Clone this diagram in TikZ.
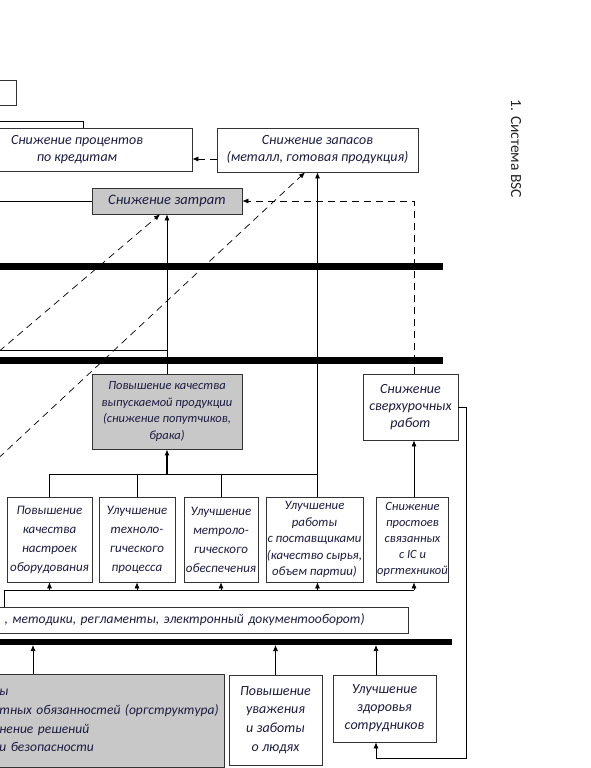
\documentclass[tikz,border=0pt]{standalone}
\usepackage{fontspec}
\setmainfont{Carlito}
\usetikzlibrary{arrows.meta,arrows}
\usetikzlibrary{positioning}
\definecolor{ink}{RGB}{28,28,64}
\definecolor{boxgray}{RGB}{200,200,200}

\begin{document}
\begin{tikzpicture}[x=1pt,y=-1pt]
        \useasboundingbox (0,0) rectangle (591,768);

        \begin{scope}[every node/.style={draw=black!80,line width=0.7pt,fill=white,text=ink,align=center,inner sep=1pt,
            font=\itshape\fontsize{14}{17}\selectfont}]
            \node[minimum width=56pt,minimum height=25pt] (T) at (-12,92.5) {};
            \node[minimum width=230pt,minimum height=43pt] (P) at (77,149.5) {Снижение процентов\\по кредитам};
            \node[minimum width=201pt,minimum height=44pt] (Q) at (317.5,150) {Снижение запасов\\(металл, готовая продукция)};
            \node[fill=boxgray,minimum width=150pt,minimum height=26pt,font=\itshape\fontsize{14.5}{17}\selectfont] (Z) at (167,201) {Снижение затрат};
            \node[fill=boxgray,minimum width=150pt,minimum height=75pt,font=\itshape\fontsize{12.5}{16.5}\selectfont] (K) at (167,411.5)
                {Повышение качества\\выпускаемой продукции\\(снижение попутчиков,\\брака)};
            \node[minimum width=95pt,minimum height=66pt] (S) at (410.5,407) {Снижение\\сверхурочных\\работ};
            \begin{scope}[every node/.append style={minimum height=85pt,font=\itshape\fontsize{13}{19}\selectfont}]
                \node[minimum width=85pt] (B1) at (49.5,539.5) {Повышение\\качества\\настроек\\оборудования};
                \node[minimum width=76pt] (B2) at (137,539.5) {Улучшение\\техноло-\\гического\\процесса};
                \node[minimum width=74pt] (B3) at (221,539.5) {Улучшение\\метроло-\\гического\\обеспечения};
                \node[minimum width=95pt,font=\itshape\fontsize{12.8}{16.5}\selectfont] (B4) at (314.5,539.5)
                    {Улучшение\\работы\\с поставщиками\\(качество сырья,\\объем партии)};
                \node[minimum width=71pt,font=\itshape\fontsize{12.5}{16}\selectfont] (B5) at (412.5,539.5)
                    {Снижение\\простоев\\связанных\\с IC и\\оргтехникой};
            \end{scope}
            \node[anchor=east,text width=400pt,inner xsep=44pt,minimum height=26pt,align=right,
                font=\itshape\fontsize{13.5}{17}\selectfont] (D) at (409,620)
                {, методики, регламенты, электронный документооборот)};
            \node[anchor=west,fill=boxgray,text width=223pt,inner xsep=2pt,minimum height=93pt,align=left,
                font=\itshape\fontsize{13.5}{18.7}\selectfont] (G) at (-3,720.5)
                {\mbox{ы}\\\mbox{тных обязанностей (оргструктура)}\\\mbox{нение решений}\\\mbox{и безопасности}};
            \node[minimum width=93pt,minimum height=90pt,font=\itshape\fontsize{14}{18.7}\selectfont] (U) at (275.5,720)
                {Повышение\\уважения\\и заботы\\о людях};
            \node[minimum width=103pt,minimum height=67pt,font=\itshape\fontsize{14}{18}\selectfont] (H) at (384.5,708.5)
                {Улучшение\\здоровья\\сотрудников};
        \end{scope}

        \node[rotate=-90,text=black!85,font=\fontsize{15.5}{18}\selectfont] (bsc) at (516,149) {1. Система BSC};

        % free ends on the left and corner points
        \coordinate (lt) at (-5,121);
        \coordinate (lz) at (-5,201);
        \coordinate (lk) at (-5,350);
        \coordinate (d1) at (-10,359);
        \coordinate (d2) at (-10,466);
        \coordinate (tj) at (167,474);
        \coordinate (tr) at (317.5,474);
        \coordinate (dl) at (4,590);
        \coordinate (ga) at (33,645);
        \coordinate (rc) at (466,758);

        \begin{scope}[>={Latex[length=6pt,width=5pt]},line width=0.7pt,
            dashline/.style={dash pattern=on 7pt off 5pt}]
            \draw (lt) -| ([xshift=6pt]P.north);
            \draw (lz) -- (Z.west);
            \draw (lk) -- (lk -| K.north);
            \draw [->,dashline] ([yshift=-9pt]Q.west) -- ([yshift=-9pt]Q.west -| P.east);
            \draw [->,dashline] ([xshift=3.5pt]S.north) |- (Z.east);
            \draw [->,dashline] (d1) -- ([xshift=-7pt]Z.south);
            \draw [->,dashline] (d2) -- ([xshift=-12.5pt]Q.south);
            \draw [->] (K) -- (Z);
            \draw [->] (B4.north -| Q.south) -- (Q.south);
            \draw (B1.north) |- (tr);
            \draw (B2.north) -- (B2.north |- tj);
            \draw (B3.north) -- (B3.north |- tj);
            \draw [->,line width=1.4pt] (tj) -- (K.south);
            \draw [->] ([xshift=1.5pt]B5.north) -- ([xshift=1.5pt]B5.north |- S.south);
            \draw [->] (S.east) -| (rc) -| ([xshift=-8.5pt]H.south);
            \draw (D.north -| dl) |- ([xshift=1.5pt]B5.south |- dl);
            \foreach \n in {B1,B2,B3}
                \draw [->] (\n.south |- dl) -- (\n.south);
            \draw [->] (dl -| Q.south) -- (B4.south -| Q.south);
            \draw [->] ([xshift=1.5pt]B5.south |- dl) -- ([xshift=1.5pt]B5.south);
            \draw [->] (G.north -| ga) -- (ga);
            \draw [->] (U.north) -- (U.north |- ga);
            \draw [->] ([xshift=-8.5pt]H.north) -- ([xshift=-8.5pt]H.north |- ga);
        \end{scope}

        % the three dividing bars
        \draw [line width=7pt] (-5,266) -- (443,266);
        \draw [line width=7pt] (-5,360) -- (443,360);
        \draw [line width=6pt] (-5,641.5) -- (452,641.5);
    \end{tikzpicture}
\end{document}
